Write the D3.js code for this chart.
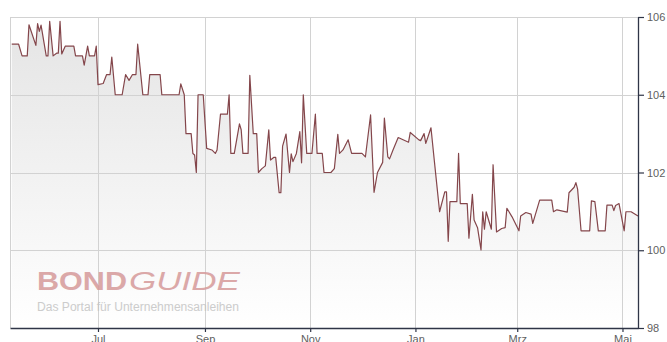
<!DOCTYPE html>
<html>
<head>
<meta charset="utf-8">
<script src="https://cdn.jsdelivr.net/npm/d3@7"></script>
<style>
  html, body { margin: 0; padding: 0; background: #fff; overflow: hidden; }
  svg { display: block; font-family: "Liberation Sans", Arial, sans-serif; }
</style>
</head>
<body>
<svg id="chart" width="667" height="342"></svg>
<script>
// Daily closing prices of the bond (in % of par)
const dates = [
  "2022-05-12","2022-05-16","2022-05-18","2022-05-21","2022-05-22","2022-05-26","2022-05-27","2022-05-28","2022-05-29",
  "2022-06-01","2022-06-02","2022-06-03","2022-06-05","2022-06-07","2022-06-08","2022-06-09","2022-06-10","2022-06-12",
  "2022-06-17","2022-06-18","2022-06-22","2022-06-23","2022-06-25","2022-06-26","2022-06-29","2022-06-30",
  "2022-07-01","2022-07-04","2022-07-06","2022-07-08","2022-07-09","2022-07-11","2022-07-15","2022-07-17","2022-07-19",
  "2022-07-21","2022-07-23","2022-07-24","2022-07-27","2022-07-30","2022-07-31",
  "2022-08-06","2022-08-07","2022-08-17","2022-08-18","2022-08-20","2022-08-21","2022-08-24","2022-08-25","2022-08-26",
  "2022-08-27","2022-08-28","2022-08-31",
  "2022-09-02","2022-09-05","2022-09-07","2022-09-08","2022-09-10","2022-09-14","2022-09-15","2022-09-16","2022-09-18",
  "2022-09-21","2022-09-22","2022-09-23","2022-09-26","2022-09-27","2022-09-29",
  "2022-10-01","2022-10-02","2022-10-04","2022-10-06","2022-10-08","2022-10-09","2022-10-11","2022-10-12","2022-10-14",
  "2022-10-15","2022-10-16","2022-10-18","2022-10-20","2022-10-21","2022-10-22","2022-10-24","2022-10-26","2022-10-27",
  "2022-10-28","2022-10-30",
  "2022-11-02","2022-11-04","2022-11-05","2022-11-08","2022-11-09","2022-11-13","2022-11-15","2022-11-17","2022-11-18",
  "2022-11-20","2022-11-23","2022-11-25",
  "2022-12-01","2022-12-03","2022-12-06","2022-12-08","2022-12-10","2022-12-13","2022-12-14","2022-12-16","2022-12-17",
  "2022-12-19","2022-12-22","2022-12-28","2022-12-29",
  "2023-01-03","2023-01-04","2023-01-06","2023-01-07","2023-01-10","2023-01-12","2023-01-15","2023-01-18","2023-01-19",
  "2023-01-20","2023-01-21","2023-01-25","2023-01-26","2023-01-27","2023-01-31",
  "2023-02-01","2023-02-03","2023-02-04","2023-02-06","2023-02-08","2023-02-09","2023-02-10","2023-02-11","2023-02-14",
  "2023-02-15","2023-02-17","2023-02-20","2023-02-22","2023-02-23","2023-02-26",
  "2023-03-01","2023-03-02","2023-03-03","2023-03-06","2023-03-09","2023-03-10","2023-03-14","2023-03-21","2023-03-22",
  "2023-03-24","2023-03-30","2023-03-31",
  "2023-04-03","2023-04-04","2023-04-05","2023-04-07","2023-04-12","2023-04-13","2023-04-15","2023-04-17","2023-04-21",
  "2023-04-22","2023-04-25","2023-04-26","2023-04-27","2023-04-29",
  "2023-05-02","2023-05-03","2023-05-06","2023-05-10"
];

const prices = [
  105.30, 105.30, 105.00, 105.00, 105.80, 105.27, 105.83, 105.63, 105.79,
  105.00, 105.00, 105.89, 105.00, 105.07, 105.07, 105.89, 105.05, 105.25,
  105.25, 105.00, 105.00, 104.76, 105.25, 105.00, 105.00, 105.25,
  104.26, 104.29, 104.52, 104.52, 104.97, 104.00, 104.00, 104.52, 104.37,
  104.52, 104.52, 105.30, 104.00, 104.00, 104.52,
  104.52, 104.00, 104.00, 104.28, 104.00, 103.00, 103.00, 102.49, 102.45,
  102.00, 104.00, 104.00,
  102.62, 102.58, 102.49, 102.58, 103.50, 103.50, 104.00, 102.49, 102.49,
  103.25, 103.10, 102.49, 102.49, 104.50, 103.00,
  103.00, 102.00, 102.10, 102.17, 103.10, 102.32, 102.39, 102.39, 101.48,
  101.48, 102.68, 102.99, 102.00, 102.48, 102.28, 102.49, 103.05, 102.25,
  104.00, 102.49,
  102.49, 103.50, 102.49, 102.49, 102.00, 102.00, 102.10, 102.98, 102.49,
  102.58, 102.84, 102.49,
  102.49, 102.40, 103.48, 101.49, 102.00, 102.26, 103.40, 102.40, 102.35,
  102.58, 102.90, 102.78, 103.03,
  102.84, 102.82, 103.00, 102.75, 103.15, 102.28, 100.99, 101.50, 101.50,
  100.23, 101.25, 101.25, 102.49, 101.20, 101.20,
  100.31, 101.44, 100.78, 100.58, 100.01, 100.99, 100.54, 100.99, 100.54,
  102.20, 100.47, 100.56, 100.58, 101.08, 100.86,
  100.59, 100.50, 100.88, 100.97, 100.93, 100.69, 101.29, 101.29, 100.99,
  101.04, 100.98, 101.48,
  101.62, 101.74, 101.57, 100.50, 100.50, 101.27, 101.25, 100.50, 100.50,
  101.16, 101.16, 101.02, 101.15, 101.20,
  100.50, 100.99, 100.99, 100.88
];

const monthTicks  = ["2022-07-01","2022-09-01","2022-11-01","2023-01-01","2023-03-01","2023-05-01"];
const monthLabels = ["Jul","Sep","Nov","Jan","Mrz","Mai"];
const priceTicks  = [98, 100, 102, 104, 106];
const dateRange   = ["2022-05-11","2023-05-10"];
const priceRange  = [98, 106];

const parse = d3.utcParse("%Y-%m-%d");
const series = dates.map((d, i) => ({ date: parse(d), price: prices[i] }));

const plot = { left: 10, right: 638, top: 17, bottom: 328 };
const svg = d3.select("#chart");

const x = d3.scaleUtc().domain(dateRange.map(parse)).range([plot.left, plot.right]);
const y = d3.scaleLinear().domain(priceRange).range([plot.bottom, plot.top]);

// vertical fade for the area below the price line
const defs = svg.append("defs");
const grad = defs.append("linearGradient")
  .attr("id", "areaFade")
  .attr("gradientUnits", "userSpaceOnUse")
  .attr("x1", 0).attr("x2", 0)
  .attr("y1", plot.top).attr("y2", plot.bottom);
grad.append("stop").attr("offset", "0%").attr("stop-color", "#e4e4e4");
grad.append("stop").attr("offset", "100%").attr("stop-color", "#ffffff");

svg.append("rect").attr("width", 667).attr("height", 342).attr("fill", "#fff");

// area under the line
svg.append("path")
  .datum(series)
  .attr("fill", "url(#areaFade)")
  .attr("d", d3.area()
    .x(d => x(d.date))
    .y0(plot.bottom)
    .y1(d => y(d.price)));

// grid
const grid = svg.append("g").attr("stroke", "#d2d2d2").attr("stroke-width", 1).attr("shape-rendering", "crispEdges");
grid.selectAll("line.h")
  .data(priceTicks.filter(v => v !== priceRange[0]))
  .join("line")
  .attr("x1", plot.left).attr("x2", plot.right)
  .attr("y1", d => Math.round(y(d)) + 0.5).attr("y2", d => Math.round(y(d)) + 0.5);
grid.selectAll("line.v")
  .data(monthTicks.map(parse))
  .join("line")
  .attr("x1", d => Math.round(x(d)) + 0.5).attr("x2", d => Math.round(x(d)) + 0.5)
  .attr("y1", plot.top).attr("y2", plot.bottom);
grid.append("line")
  .attr("x1", plot.left + 0.5).attr("x2", plot.left + 0.5)
  .attr("y1", plot.top).attr("y2", plot.bottom);

// watermark
const mark = svg.append("g").attr("opacity", 0.85);
mark.append("text")
  .attr("x", 37).attr("y", 290)
  .attr("font-size", 26).attr("font-weight", "bold")
  .attr("fill", "#d69a9a")
  .attr("textLength", 90).attr("lengthAdjust", "spacingAndGlyphs")
  .text("BOND");
mark.append("text")
  .attr("x", 129).attr("y", 290)
  .attr("font-size", 26).attr("font-style", "italic")
  .attr("fill", "#d69a9a")
  .attr("textLength", 111).attr("lengthAdjust", "spacingAndGlyphs")
  .text("GUIDE");
mark.append("text")
  .attr("x", 37).attr("y", 311)
  .attr("font-size", 12)
  .attr("fill", "#c4c4c4")
  .attr("textLength", 202).attr("lengthAdjust", "spacingAndGlyphs")
  .text("Das Portal für Unternehmensanleihen");

// price line
svg.append("path")
  .datum(series)
  .attr("fill", "none")
  .attr("stroke", "#84464b")
  .attr("stroke-width", 1.2)
  .attr("stroke-linejoin", "round")
  .attr("d", d3.line().x(d => x(d.date)).y(d => y(d.price)));

// axes
const axisColor = "#2f3547";
const labelColor = "#606060";

const xAxis = svg.append("g")
  .attr("transform", `translate(0,${plot.bottom})`)
  .call(d3.axisBottom(x)
    .tickValues(monthTicks.map(parse))
    .tickFormat((d, i) => monthLabels[i])
    .tickSize(4)
    .tickSizeOuter(0)
    .tickPadding(3));

const yAxis = svg.append("g")
  .attr("transform", `translate(${plot.right},0)`)
  .call(d3.axisRight(y)
    .tickValues(priceTicks)
    .tickFormat(d3.format("d"))
    .tickSize(6)
    .tickSizeOuter(0)
    .tickPadding(3));

[xAxis, yAxis].forEach(g => {
  g.select(".domain").attr("stroke", axisColor).attr("stroke-width", 1.3);
  g.selectAll(".tick line").attr("stroke", axisColor).attr("stroke-width", 1.2);
  g.selectAll(".tick text")
    .attr("fill", labelColor)
    .attr("font-size", 11)
    .attr("font-family", "'Liberation Sans', Arial, sans-serif");
});
</script>
</body>
</html>
